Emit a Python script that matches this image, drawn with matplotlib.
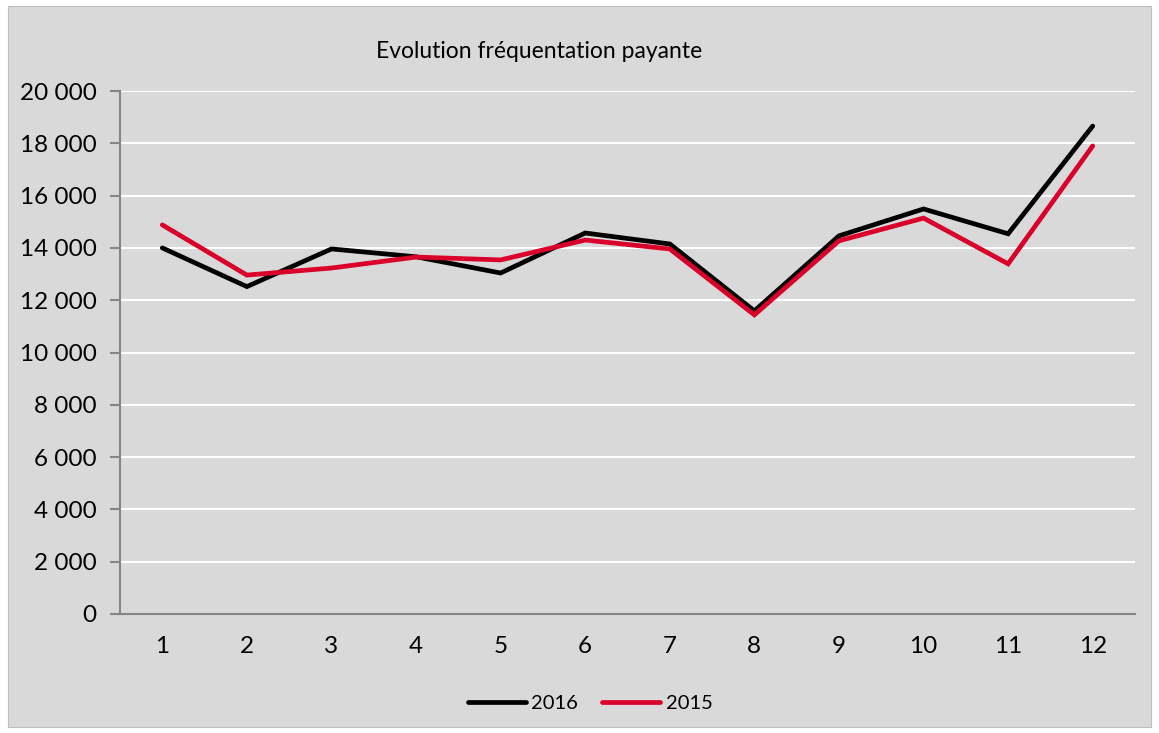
import numpy as np
import matplotlib.pyplot as plt
from matplotlib.patches import Rectangle
from matplotlib.ticker import FuncFormatter

plt.rcParams['font.family'] = ['Lato', 'DejaVu Sans']

mois = np.arange(1, 13)
y2016 = [14000, 12520, 13960, 13660, 13040, 14570, 14150, 11590, 14460, 15490, 14540, 18660]
y2015 = [14880, 12960, 13230, 13650, 13540, 14300, 13960, 11440, 14270, 15140, 13390, 17900]

fig = plt.figure(figsize=(11.59, 7.33), dpi=100)
fig.patches.append(Rectangle((8/1159, 6/733), 1143/1159, 721/733, transform=fig.transFigure,
                             facecolor='#d9d9d9', edgecolor='#bfbfbf', lw=0.8, zorder=-1))
ax = fig.add_axes([120/1159, 1 - 614/733, 1015/1159, 523/733])
ax.set_zorder(1)
ax.set_facecolor('#d9d9d9')

ax.plot(mois, y2016, color='black', lw=3.4, solid_capstyle='round', solid_joinstyle='miter', label='2016', zorder=3)
ax.plot(mois, y2015, color='#d9002a', lw=3.4, solid_capstyle='round', solid_joinstyle='miter', label='2015', zorder=4)

ax.set_xlim(0.5, 12.5)
ax.set_ylim(0, 20000)
ax.set_yticks(np.arange(0, 20001, 2000))
ax.yaxis.set_major_formatter(FuncFormatter(lambda v, p: f'{int(v):,}'.replace(',', ' ')))
ax.set_xticks(mois)
ax.grid(axis='y', color='white', lw=1.5)
ax.set_axisbelow(True)
for s in ['top', 'right']:
    ax.spines[s].set_visible(False)
for s in ['left', 'bottom']:
    ax.spines[s].set_color('#868686')
    ax.spines[s].set_linewidth(1.5)
ax.tick_params(axis='y', length=7, width=1.5, color='#868686', labelsize=17.5, pad=10)
ax.tick_params(axis='x', length=0, labelsize=17.5, pad=16)

fig.text(539/1159, 1 - 52/733, 'Evolution fréquentation payante', ha='center', va='center', fontsize=16.5)
fig.legend(loc='center', bbox_to_anchor=(590/1159, 1 - 703/733), ncol=2, frameon=False,
           fontsize=14.5, handlelength=2.9, handletextpad=0.25, columnspacing=1.2)

fig.savefig('out.png', dpi=100)
